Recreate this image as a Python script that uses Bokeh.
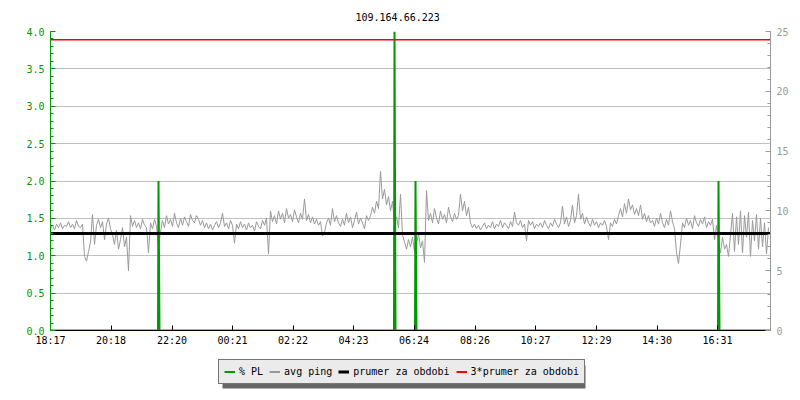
from bokeh.plotting import figure
from bokeh.layouts import column
from bokeh.models import (Range1d, LinearAxis, SingleIntervalTicker, FixedTicker,
                          Legend, LegendItem, NumeralTickFormatter, BoxAnnotation)
from bokeh.embed import file_html
from bokeh.resources import INLINE

# ---------------- data ----------------
title_text = "109.164.66.223"
tick_labels = ["18:17", "20:18", "22:20", "00:21", "02:22", "04:23",
               "06:24", "08:26", "10:27", "12:29", "14:30", "16:31"]
legend_labels = ["% PL", "avg ping", "prumer za obdobi", "3*prumer za obdobi"]
span_minutes = 1440          # 24 hours shown
sample_step = 4              # minutes between ping samples

# avg ping (ms), one value every 4 minutes starting 18:17
avg_ping = [
    8.5, 8.8, 8.4, 8.9, 8.6, 9.0, 8.5, 8.8, 8.7, 9.1, 8.6, 8.9, 8.5, 9.2, 8.7, 8.6, 8.9,
    6.2, 5.8, 6.6, 7.4, 9.7, 7.2,
    8.8, 9.3, 8.6, 9.1, 7.6, 8.9, 9.4, 8.5,
    8.0, 7.2, 8.4, 6.8, 7.6, 8.6, 7.0, 7.8, 5.0, 9.6,
    8.7, 9.2, 8.6, 9.0, 8.5, 9.3, 8.8, 8.6, 6.5,
    9.0, 8.5, 9.3, 8.7, 7.0, 8.2,
    9.2, 8.6, 9.6, 8.9, 9.3, 8.7, 9.8, 9.0, 8.6, 9.4, 8.8, 9.5, 9.1, 8.7, 9.7, 9.2, 9.0, 9.6, 9.3,
    8.8, 9.2, 8.6, 9.0, 8.5, 8.9, 8.4, 8.8, 9.1, 8.6, 9.0,
    9.8, 8.7, 9.0, 8.5, 9.2, 8.8, 7.3,
    8.9, 8.5, 9.1, 8.6, 8.9, 8.4, 9.0, 8.6, 8.8, 8.3, 9.1, 8.7, 8.5, 9.2, 8.8, 9.4,
    6.4, 10.0,
    9.1, 9.6, 8.9, 10.0, 9.3, 9.8, 9.0, 10.2, 9.4, 9.7, 9.1, 10.1, 9.5, 9.0, 9.8, 9.3,
    11.0,
    9.2, 9.7, 9.0, 9.5, 8.9, 9.3, 8.8, 9.1, 7.9, 8.2,
    9.0, 9.4, 8.8, 10.2, 9.1, 9.6, 9.0,
    8.7, 9.3, 8.8, 9.8, 9.0, 9.5, 8.6, 9.2, 9.9, 8.9, 9.4, 9.0, 8.5, 9.6, 9.2,
    9.6, 10.3, 9.8, 10.8, 10.2, 13.3, 11.0, 11.8, 10.5, 11.2, 10.0, 10.8,
    9.0, 9.5, 8.6, 11.4,
    8.0, 7.4, 6.8, 7.6, 7.0, 7.8, 6.6, 7.2, 8.1, 6.9, 7.5, 5.7,
    11.7,
    9.2, 9.8, 9.0, 10.2, 9.4, 8.9, 10.0, 9.3, 9.7, 9.0, 10.3, 9.5, 9.1, 9.8, 9.3, 9.6,
    11.4, 10.0, 10.8, 9.6, 10.3,
    9.0, 8.6, 8.9, 8.5, 8.8, 8.4, 8.7, 9.0, 8.5, 8.8,
    8.6, 9.1, 8.5, 8.9, 8.7, 9.2, 8.6, 9.0, 8.8, 8.5, 9.1, 8.7, 9.9, 9.0,
    8.8, 9.2, 8.6, 8.9, 7.5, 9.2,
    8.8, 9.1, 8.5, 8.9, 8.7, 9.0, 8.6, 9.2, 8.8, 8.5, 9.0, 8.7, 9.3, 8.9, 8.6, 9.0,
    10.4, 8.9, 9.5, 8.7, 9.2, 10.5, 9.0, 9.6, 11.4,
    9.3, 9.8, 8.9, 9.5, 9.0, 8.7, 9.3, 8.8, 9.1, 8.6, 9.0, 8.8, 9.2, 8.7,
    7.6, 9.0, 8.7, 9.3, 8.9,
    9.6, 10.2, 9.5, 10.6, 9.8, 11.0, 10.1, 10.5, 9.7,
    10.2, 9.6, 10.5, 9.3, 9.8, 9.1, 9.6, 9.0,
    9.2, 8.7, 9.4, 8.9, 9.8, 9.0, 8.6, 9.3, 8.8, 10.0, 9.1, 8.5,
    6.5, 5.6, 7.2,
    9.0, 8.6, 9.4, 8.8, 9.2, 8.5, 9.6, 9.0, 8.7, 9.3, 8.9, 9.5, 8.6, 9.1, 8.8, 9.3,
    7.6, 8.8,
    7.4, 6.5, 7.8, 6.8, 7.2, 6.2,
    8.0, 9.8, 6.6, 9.5, 7.2, 10.0, 6.5, 9.6, 7.8, 9.9, 6.2, 9.2, 7.5, 9.7, 6.8, 9.4, 7.0, 9.0, 6.4, 8.6,
]
ping_time = [i * sample_step for i in range(len(avg_ping))]

# packet loss (%) events, minutes from 18:17
pl_time = [0, 215, 216, 217, 218, 687, 688, 689, 690, 729, 730, 731, 732,
           1335, 1336, 1337, 1338, 1440]
pl_value = [0, 0, 2.0, 1.0, 0, 0, 4.0, 2.0, 0, 0, 2.0, 1.0, 0,
            0, 2.0, 1.0, 0, 0]

period_avg = 8.1   # ms, "prumer za obdobi"

# tick positions derived from the tick labels
def _mins(lbl):
    h, m = map(int, lbl.split(":"))
    return h * 60 + m
_start = _mins(tick_labels[0])
tick_pos = [(_mins(l) - _start) % 1440 for l in tick_labels]

# ---------------- styles ----------------
FONT = "DejaVu Sans Mono"
GREEN = "#009900"
GRAY = "#999999"
RED = "#ff0000"

# ---------------- main figure ----------------
p = figure(width=800, height=352, output_backend="svg", toolbar_location=None,
           x_range=Range1d(0, span_minutes), y_range=Range1d(0, 4.0),
           min_border_left=50, min_border_right=30, min_border_top=31,
           min_border_bottom=22, background_fill_color="white",
           border_fill_color="white", outline_line_color=None)
p.extra_y_ranges = {"ping": Range1d(0, 25)}

p.title.text = title_text
p.title.align = "left"
p.title.offset = 305
p.title.text_font = FONT
p.title.text_font_size = "10px"
p.title.text_font_style = "normal"
p.title.text_color = "black"
p.title.vertical_align = "top"
try:
    p.title.standoff = 17
except Exception:
    pass

# left axis (% PL)
ya = p.yaxis[0]
ya.ticker = SingleIntervalTicker(interval=0.5, num_minor_ticks=5)
ya.formatter = NumeralTickFormatter(format="0.0")
ya.axis_line_color = GREEN
ya.major_tick_line_color = GREEN
ya.minor_tick_line_color = GREEN
ya.major_tick_in = 5
ya.major_tick_out = 0
ya.minor_tick_in = 3
ya.minor_tick_out = 0
ya.major_label_text_color = GREEN
ya.major_label_text_font = FONT
ya.major_label_text_font_size = "10px"
ya.major_label_standoff = 6

# right axis (ping)
ra = LinearAxis(y_range_name="ping",
                ticker=SingleIntervalTicker(interval=5, num_minor_ticks=5))
ra.axis_line_color = GRAY
ra.major_tick_line_color = GRAY
ra.minor_tick_line_color = GRAY
ra.major_tick_in = 5
ra.major_tick_out = 0
ra.minor_tick_in = 3
ra.minor_tick_out = 0
ra.major_label_text_color = GRAY
ra.major_label_text_font = FONT
ra.major_label_text_font_size = "10px"
ra.major_label_standoff = 6
p.add_layout(ra, "right")

# bottom axis
xa = p.xaxis[0]
xa.ticker = FixedTicker(ticks=tick_pos, minor_ticks=[])
xa.major_label_overrides = {t: l for t, l in zip(tick_pos, tick_labels)}
xa.axis_line_color = "black"
xa.major_tick_line_color = "black"
xa.major_tick_in = 5
xa.major_tick_out = 0
xa.minor_tick_line_color = None
xa.major_label_text_color = "black"
xa.major_label_text_font = FONT
xa.major_label_text_font_size = "10px"
xa.major_label_standoff = 4

p.xgrid.visible = False
p.ygrid.grid_line_color = "#c0c0c0"
p.ygrid.ticker = ya.ticker

r_ping = p.line(ping_time, avg_ping, y_range_name="ping", line_color=GRAY, line_width=1)
r_pl = p.line(pl_time, pl_value, line_color=GREEN, line_width=2)
r_avg = p.line([0, span_minutes], [period_avg, period_avg], y_range_name="ping",
               line_color="black", line_width=3)
r_3avg = p.line([0, span_minutes], [3 * period_avg, 3 * period_avg], y_range_name="ping",
                line_color=RED, line_width=1.5)

# ---------------- legend strip ----------------
# the strip's frame is aligned with the main frame (x 50..770), so use pixel ranges
q = figure(width=800, height=48, output_backend="svg", toolbar_location=None,
           x_range=Range1d(50, 770), y_range=Range1d(48, 0),
           min_border=0, min_border_left=50, min_border_right=30,
           min_border_top=0, min_border_bottom=0,
           background_fill_color="white", border_fill_color="white",
           outline_line_color=None, x_axis_location=None, y_axis_location=None)
q.grid.visible = False

# drop shadow behind the legend box
q.add_layout(BoxAnnotation(left=222, right=585, top=13, bottom=36,
                           fill_color="#666666", fill_alpha=1, line_color=None,
                           level="underlay"))

legend_colors = [GREEN, GRAY, "black", RED]
legend_widths = [2, 2, 3, 2]
nan = float("nan")
items = []
for lbl, col, w in zip(legend_labels, legend_colors, legend_widths):
    r = q.line([nan, nan], [nan, nan], line_color=col, line_width=w)
    items.append(LegendItem(label=lbl, renderers=[r]))

legend = Legend(items=items, orientation="horizontal", location=(168, 16),
                glyph_width=11, glyph_height=13, label_height=13, label_standoff=4,
                padding=5, margin=0, spacing=6,
                border_line_color="black", border_line_width=1,
                background_fill_color="#ebebeb", background_fill_alpha=1,
                label_text_font=FONT, label_text_font_size="10px",
                label_text_color="black")
q.add_layout(legend)

layout = column(p, q, spacing=0)
open("out.html", "w").write(file_html(layout, INLINE))
